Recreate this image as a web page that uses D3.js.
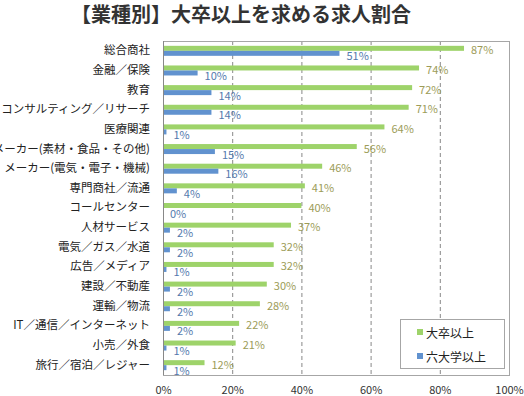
<!DOCTYPE html>
<html><head><meta charset="utf-8">
<script src="https://cdn.jsdelivr.net/npm/d3@7"></script>
<style>
html,body{margin:0;padding:0;background:#fff;}
svg{display:block;font-family:"Noto Sans CJK JP","Noto Sans",sans-serif;}
</style></head>
<body>
<script>
const categories = ["総合商社","金融／保険","教育","コンサルティング／リサーチ","医療関連","メーカー(素材・食品・その他)","メーカー(電気・電子・機械)","専門商社／流通","コールセンター","人材サービス","電気／ガス／水道","広告／メディア","建設／不動産","運輸／物流","IT／通信／インターネット","小売／外食","旅行／宿泊／レジャー"];
const daisotsu = [87,74,72,71,64,56,46,41,40,37,32,32,30,28,22,21,12];
const rokudai = [51,10,14,14,1,15,16,4,0,2,2,1,2,2,2,1,1];
const seriesNames = ["大卒以上","六大学以上"];
const xTicks = [0,20,40,60,80,100];

const W=524,H=396;
const m={l:163,r:509,t:41,b:375};
const green="#9ed36a", blue="#6192cf";
const svg=d3.select("body").append("svg").attr("width",W).attr("height",H);

svg.append("text").attr("x",241).attr("y",22).attr("text-anchor","middle")
  .attr("font-size",20).attr("font-weight","bold").attr("fill","#333")
  .text("【業種別】大卒以上を求める求人割合");

const x=d3.scaleLinear().domain([0,100]).range([m.l,m.r]);
const y=d3.scaleBand().domain(categories).range([m.t,m.b]);
const bh=5;

// gridlines
svg.append("g").selectAll("line").data(xTicks.filter(d=>d>0&&d<100)).join("line")
  .attr("x1",d=>x(d)+0.5).attr("x2",d=>x(d)+0.5).attr("y1",m.t).attr("y2",m.b)
  .attr("stroke","#888").attr("stroke-dasharray","4,3");

// plot border
svg.append("rect").attr("x",m.l+0.5).attr("y",m.t+0.5).attr("width",m.r-m.l).attr("height",m.b-m.t)
  .attr("fill","none").attr("stroke","#a6a6a6");

// bars
const g=svg.append("g");
categories.forEach((c,i)=>{
  const cy=y(c)+y.bandwidth()/2;
  g.append("rect").attr("x",x(0)+1).attr("y",cy-bh).attr("width",Math.max(0,x(daisotsu[i])-x(0)-1)).attr("height",bh).attr("fill",green);
  if(rokudai[i]>0) g.append("rect").attr("x",x(0)+1).attr("y",cy).attr("width",Math.max(0,x(rokudai[i])-x(0)-1)).attr("height",bh).attr("fill",blue);
  g.append("text").attr("x",x(daisotsu[i])+7).attr("y",cy-bh/2+1).attr("dominant-baseline","central")
    .attr("font-size",11).attr("fill","#9c9c58").text(daisotsu[i]+"%");
  g.append("text").attr("x",x(rokudai[i])+7).attr("y",cy+bh/2+2).attr("dominant-baseline","central")
    .attr("font-size",11).attr("fill","#5479ad").text(rokudai[i]+"%");
});

// left axis line
svg.append("line").attr("x1",m.l+0.5).attr("x2",m.l+0.5).attr("y1",m.t).attr("y2",m.b).attr("stroke","#888");

// category labels
const yAxis=d3.axisLeft(y).tickSize(0).tickPadding(13);
const ya=svg.append("g").attr("transform",`translate(${m.l},0)`).call(yAxis);
ya.select(".domain").remove();
ya.selectAll("text").attr("font-size",11.5).attr("fill","#222").attr("font-family",'"Noto Sans CJK JP",sans-serif').attr("dy","0.3em");

// x axis labels
const xAxis=d3.axisBottom(x).tickValues(xTicks).tickSize(0).tickPadding(11).tickFormat(d=>d+"%");
const xa=svg.append("g").attr("transform",`translate(0,${m.b})`).call(xAxis);
xa.select(".domain").remove();
xa.selectAll("text").attr("font-size",11).attr("fill","#333").attr("font-family",'"Noto Sans CJK JP",sans-serif');

// legend
const lg=svg.append("g");
lg.append("rect").attr("x",400.5).attr("y",319.5).attr("width",104).attr("height",49).attr("fill","#fff").attr("stroke","#a6a6a6");
[green,blue].forEach((col,i)=>{
  const cy=332+i*24;
  lg.append("rect").attr("x",417).attr("y",cy-3).attr("width",6).attr("height",6).attr("fill",col);
  lg.append("text").attr("x",426).attr("y",cy).attr("dominant-baseline","central").attr("font-size",12).attr("fill","#222").text(seriesNames[i]);
});
</script>
</body></html>
